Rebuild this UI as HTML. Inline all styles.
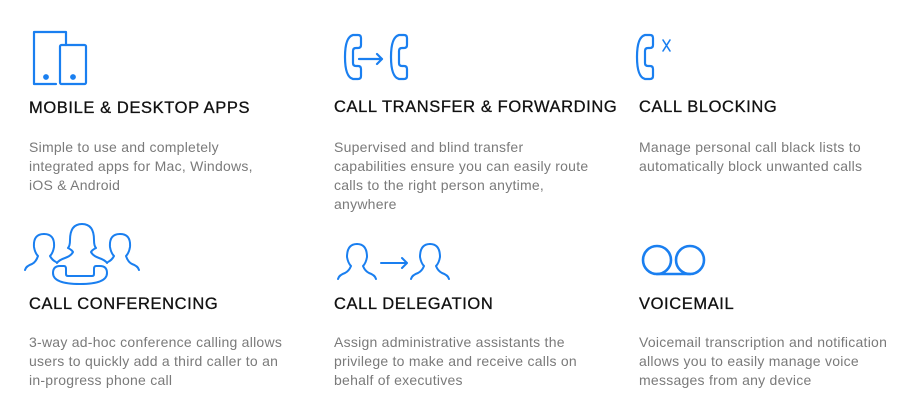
<!DOCTYPE html>
<html><head><meta charset="utf-8"><style>
body{margin:0;width:914px;height:404px;background:#fff;position:relative;overflow:hidden;font-family:"Liberation Sans",sans-serif}
.t{position:absolute;font-size:16.5px;color:#111;letter-spacing:0.6px;white-space:nowrap;-webkit-text-stroke:0.3px #111}
.d{position:absolute;font-size:14px;line-height:19px;color:#7a7a7a;letter-spacing:0.25px;white-space:nowrap}
svg{position:absolute;left:0;top:0}
</style></head><body>
<svg width="914" height="404" fill="none" stroke="#1a7ff0" stroke-width="2.2" stroke-linecap="round" stroke-linejoin="round">
<!-- tablet & phone -->
<path d="M56 84 H34 V32 H66 V45"/>
<rect x="60" y="45" width="26" height="39" rx="1.5"/>
<circle cx="46" cy="77" r="1.8" fill="#1a7ff0"/>
<circle cx="73" cy="77" r="1.8" fill="#1a7ff0"/>
<!-- handsets -->
<defs><path id="h" d="M8 0 q-8 2 -8 22 q0 20 8 22 h5 q3 0 3-3 v-7 q0-3-3-3 h-2 q-3 0-3-3 v-12 q0-3 3-3 h2 q3 0 3-3 v-7 q0-3-3-3 z"/></defs>
<use href="#h" x="345" y="35"/>
<use href="#h" x="391" y="35"/>
<path d="M359 59 h23 m-5 -5 l5 5 l-5 5"/>
<use href="#h" x="637" y="35"/>
<path d="M663 40 l7 11 m0 -11 l-7 11" stroke-width="1.6"/>
<!-- conference -->
<g stroke-width="2">
<path d="M44 234 q-11 0 -10 13 q1 6 4 9 q-2 6 -6 8 q-6 2 -7 6"/>
<path d="M44 234 q11 0 10 13 q-1 6 -4 9 q2 4 6 6"/>
<path d="M120 234 q11 0 10 13 q-1 6 -4 9 q2 6 6 8 q6 2 7 6"/>
<path d="M120 234 q-11 0 -10 13 q1 6 4 9 q-2 4 -6 6"/>
<path d="M82 224 q-12 0 -12 16 q0 6 -2 8 q4 2 5 4 q-2 4 -8 6 q-6 2 -8 5"/>
<path d="M82 224 q12 0 12 16 q0 6 2 8 q-4 2 -5 4 q2 4 8 6 q6 2 8 5"/>
<path d="M60 266 q-7 0 -7 7 q0 11 27 11 q27 0 27 -11 q0 -7 -7 -7 h-4 q-2 0 -2 3 v5 q0 2 -2 2 h-24 q-2 0 -2 -2 v-5 q0 -3 -2 -3 z"/>
<!-- delegation -->
<g id="p"><path d="M357 244 q-10 0 -10 13 q1 6 4 9 q-2 5 -6 7 q-6 2 -7 6"/><path d="M357 244 q10 0 10 13 q-1 6 -4 9 q2 5 6 7 q6 2 7 6"/></g>
<use href="#p" x="73"/>
<path d="M381 263 h26 m-5 -5 l5 5 l-5 5"/>
</g>
<!-- voicemail -->
<g stroke-width="2.6"><ellipse cx="657" cy="260" rx="14" ry="14"/><ellipse cx="690" cy="260" rx="14" ry="14"/><path d="M657 274 h33"/></g>
</svg>
<div class="t" style="left:29px;top:99px">MOBILE &amp; DESKTOP APPS</div>
<div class="d" style="left:29px;top:138px">Simple to use and completely<br>integrated apps for Mac, Windows,<br>iOS &amp; Android</div>
<div class="t" style="left:334px;top:98px">CALL TRANSFER &amp; FORWARDING</div>
<div class="d" style="left:334px;top:138px">Supervised and blind transfer<br>capabilities ensure you can easily route<br>calls to the right person anytime,<br>anywhere</div>
<div class="t" style="left:639px;top:98px">CALL BLOCKING</div>
<div class="d" style="left:639px;top:138px">Manage personal call black lists to<br>automatically block unwanted calls</div>
<div class="t" style="left:29px;top:295px">CALL CONFERENCING</div>
<div class="d" style="left:29px;top:333px">3-way ad-hoc conference calling allows<br>users to quickly add a third caller to an<br>in-progress phone call</div>
<div class="t" style="left:334px;top:295px">CALL DELEGATION</div>
<div class="d" style="left:334px;top:333px">Assign administrative assistants the<br>privilege to make and receive calls on<br>behalf of executives</div>
<div class="t" style="left:639px;top:295px">VOICEMAIL</div>
<div class="d" style="left:639px;top:333px">Voicemail transcription and notification<br>allows you to easily manage voice<br>messages from any device</div>
</body></html>
